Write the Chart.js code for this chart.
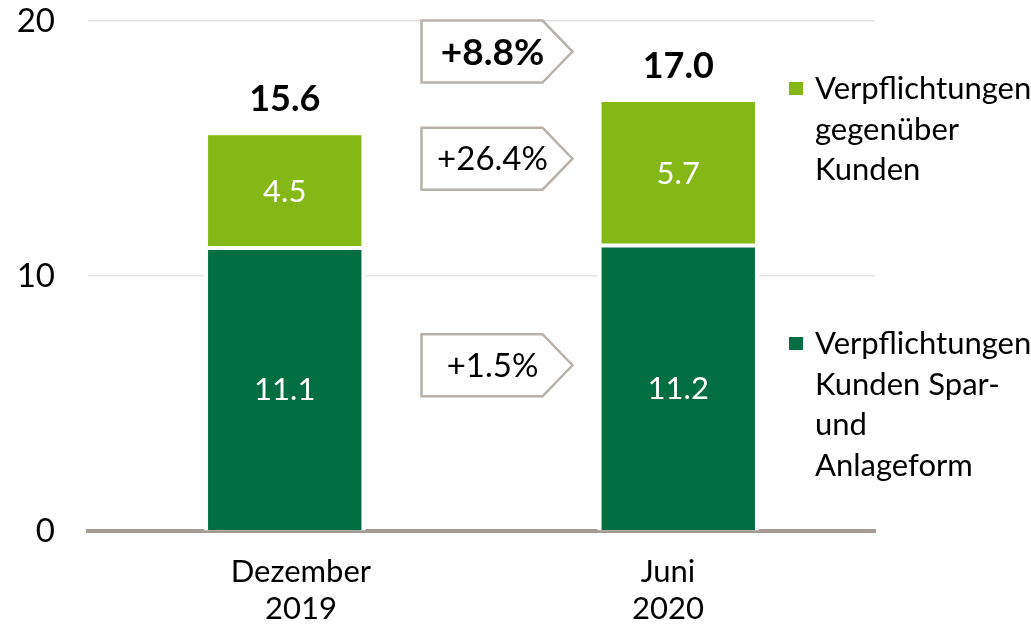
<!DOCTYPE html>
<html>
<head>
<meta charset="utf-8">
<script src="https://cdn.jsdelivr.net/npm/chart.js@4.4.0/dist/chart.umd.min.js"></script>
<style>
  html, body { margin: 0; padding: 0; background: #fff; }
  #wrap { width: 1031px; height: 626px; position: relative; }
</style>
</head>
<body>
<div id="wrap"><canvas id="myChart"></canvas></div>
<script>
// data
var categories = [['Dezember', '2019'], ['Juni', '2020']];
var spar = [11.1, 11.2];      // Verpflichtungen Kunden Spar- und Anlageform
var kunden = [4.5, 5.7];      // Verpflichtungen gegenüber Kunden
var totals = [15.6, 17.0];
var changes = ['+8.8%', '+26.4%', '+1.5%'];
var legendLines = [
  ['Verpflichtungen', 'gegenüber', 'Kunden'],
  ['Verpflichtungen', 'Kunden Spar-', 'und', 'Anlageform']
];

var FONT = 'Lato';
var lightGreen = '#84b817';
var darkGreen = '#036e41';

// white halo around the bars so gridlines stop short of them
var haloPlugin = {
  id: 'halo',
  beforeDatasetsDraw: function (chart) {
    var ctx = chart.ctx;
    ctx.save();
    ctx.fillStyle = '#fff';
    chart.data.datasets.forEach(function (ds, i) {
      chart.getDatasetMeta(i).data.forEach(function (bar) {
        var p = bar.getProps(['x', 'y', 'base', 'width'], true);
        ctx.fillRect(p.x - p.width / 2 - 2, p.y - 2, p.width + 4, p.base - p.y + 2);
      });
    });
    ctx.restore();
  }
};

var labelPlugin = {
  id: 'labels',
  afterDatasetsDraw: function (chart) {
    var ctx = chart.ctx;
    ctx.save();
    ctx.textAlign = 'center';
    ctx.textBaseline = 'middle';
    // values inside segments
    ctx.fillStyle = '#fff';
    ctx.font = '31px ' + FONT;
    chart.data.datasets.forEach(function (ds, i) {
      chart.getDatasetMeta(i).data.forEach(function (bar, j) {
        var p = bar.getProps(['x', 'y', 'base'], true);
        ctx.fillText(ds.data[j].toFixed(1), p.x, (p.y + p.base) / 2 + 1);
      });
    });
    // totals above the stacks
    ctx.fillStyle = '#000';
    ctx.font = 'bold 36px ' + FONT;
    ctx.textBaseline = 'alphabetic';
    var top = chart.getDatasetMeta(1).data;
    totals.forEach(function (t, j) {
      ctx.fillText(t.toFixed(1), top[j].x, top[j].y - 22);
    });

    // change callouts between the bars
    var xs = chart.scales.x, ys = chart.scales.y;
    var mid = (xs.getPixelForValue(0) + xs.getPixelForValue(1)) / 2;
    var anchors = [18.8, 14.6, 6.5];
    changes.forEach(function (txt, k) {
      var cy = ys.getPixelForValue(anchors[k]);
      var l = mid - 60, r = mid + 61, tip = mid + 91, t = cy - 31, b = cy + 31;
      ctx.beginPath();
      ctx.moveTo(l, t);
      ctx.lineTo(r, t);
      ctx.lineTo(tip, cy);
      ctx.lineTo(r, b);
      ctx.lineTo(l, b);
      ctx.closePath();
      ctx.fillStyle = '#fff';
      ctx.fill();
      ctx.strokeStyle = '#b9b2ab';
      ctx.lineWidth = 2.5;
      ctx.stroke();
      ctx.fillStyle = '#000';
      ctx.font = (k === 0 ? 'bold 37px ' : '33px ') + FONT;
      ctx.textBaseline = 'middle';
      ctx.fillText(txt, mid + 11, cy + 1);
    });
    ctx.restore();
  }
};

var legendPlugin = {
  id: 'sideLegend',
  afterDraw: function (chart) {
    var ctx = chart.ctx;
    var colors = [lightGreen, darkGreen];
    var firstLine = [89, 344];
    ctx.save();
    ctx.font = '31px ' + FONT;
    ctx.textBaseline = 'middle';
    ctx.textAlign = 'left';
    legendLines.forEach(function (lines, i) {
      ctx.fillStyle = colors[i];
      ctx.fillRect(789, firstLine[i] - 7, 14, 13);
      ctx.fillStyle = '#000';
      lines.forEach(function (line, n) {
        ctx.fillText(line, 815, firstLine[i] + n * 40.5);
      });
    });
    ctx.restore();
  }
};

var ctx = document.getElementById('myChart').getContext('2d');
var myChart = new Chart(ctx, {
  type: 'bar',
  data: {
    labels: categories,
    datasets: [{
      label: 'Verpflichtungen Kunden Spar- und Anlageform',
      data: spar,
      backgroundColor: darkGreen,
      borderColor: '#fff',
      borderWidth: 2,
      borderSkipped: 'bottom'
    }, {
      label: 'Verpflichtungen gegenüber Kunden',
      data: kunden,
      backgroundColor: lightGreen,
      borderColor: '#fff',
      borderWidth: 2,
      borderSkipped: false
    }]
  },
  options: {
    responsive: true,
    maintainAspectRatio: false,
    animation: false,
    barPercentage: 1,
    categoryPercentage: 0.4,
    layout: { padding: { top: 21, right: 156, left: 0, bottom: 0 } },
    plugins: { legend: { display: false }, tooltip: { enabled: false } },
    scales: {
      x: {
        stacked: true,
        z: 1,
        ticks: { display: false },
        grid: { display: false },
        border: { color: '#a39c95', width: 4 },
        afterFit: function (s) { s.height = 0; }
      },
      x2: {
        type: 'linear',
        position: 'bottom',
        bounds: 'data',
        offset: false,
        min: -0.58,
        max: 1.564,
        afterBuildTicks: function (s) { s.ticks = [{ value: 0 }, { value: 1 }]; },
        ticks: {
          autoSkip: false,
          maxRotation: 0,
          padding: 14,
          color: '#000',
          font: { family: FONT, size: 31, lineHeight: 1.2 },
          callback: function (v) { return categories[v]; }
        },
        grid: { display: false },
        border: { display: false },
        afterFit: function (s) { s.height = 95; s.paddingLeft = 0; s.paddingRight = 0; }
      },
      y: {
        stacked: true,
        min: 0,
        max: 20,
        ticks: {
          stepSize: 10,
          padding: 33,
          color: '#000',
          font: { family: FONT, size: 33 }
        },
        grid: {
          drawTicks: false,
          lineWidth: 1.5,
          color: function (c) { return c.tick && c.tick.value === 0 ? 'rgba(0,0,0,0)' : '#e5e5e5'; }
        },
        border: { display: false },
        afterFit: function (s) { s.width = 88; s.paddingTop = 0; s.paddingBottom = 0; }
      }
    }
  },
  plugins: [haloPlugin, labelPlugin, legendPlugin]
});
</script>
</body>
</html>
